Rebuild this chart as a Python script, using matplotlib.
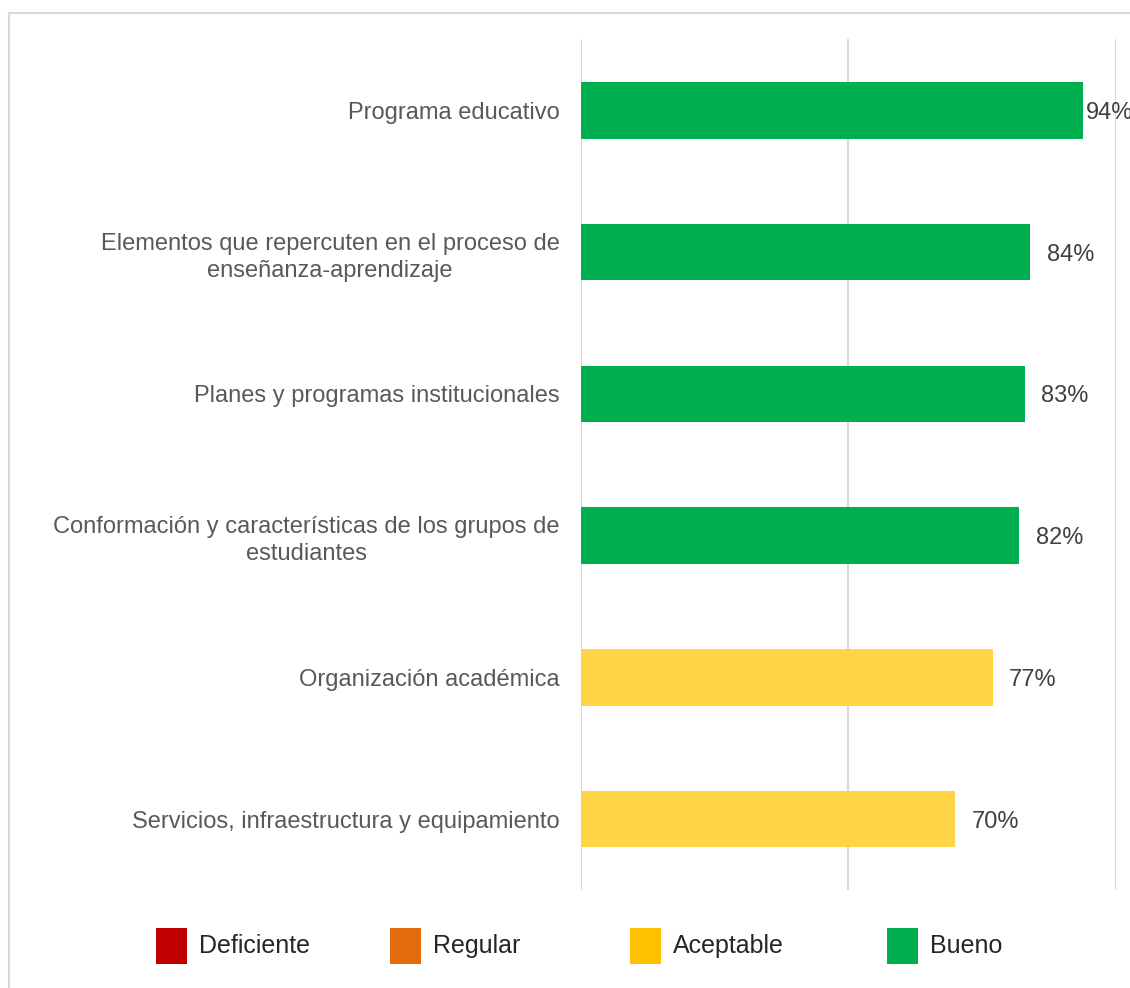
import matplotlib
matplotlib.use("Agg")
import matplotlib.pyplot as plt
from matplotlib.patches import Rectangle
from matplotlib.lines import Line2D

plt.rcParams['font.family'] = ['Liberation Sans', 'DejaVu Sans']

# data
categorias = [
    "Programa educativo",
    "Elementos que repercuten en el proceso de\nenseñanza-aprendizaje",
    "Planes y programas institucionales",
    "Conformación y características de los grupos de\nestudiantes",
    "Organización académica",
    "Servicios, infraestructura y equipamiento",
]
valores = [0.94, 0.84, 0.83, 0.82, 0.77, 0.70]
niveles = ["Bueno", "Bueno", "Bueno", "Bueno", "Aceptable", "Aceptable"]

leyenda = ["Deficiente", "Regular", "Aceptable", "Bueno"]
colores_leyenda = ["#C00000", "#E36C0A", "#FFC000", "#00B050"]
colores_barra = {"Bueno": "#00B050", "Aceptable": "#FFD447"}

W, H = 1130, 988
fig = plt.figure(figsize=(W / 100, H / 100), dpi=100)
ax = fig.add_axes([581 / W, 1 - 890 / H, (1115.5 - 581) / W, (890 - 39.5) / H])

y = list(range(len(categorias)))
ax.barh(y, valores, height=0.4, color=[colores_barra[n] for n in niveles], zorder=3)

ax.set_xlim(0, 1)
ax.set_ylim(len(categorias) - 0.5, -0.5)
ax.set_xticks([0, 0.5, 1])
ax.xaxis.grid(True, color="#d9d9d9", linewidth=1.5, zorder=0)
ax.tick_params(axis="x", length=0, labelbottom=False)
for s in ax.spines.values():
    s.set_visible(False)

ax.set_yticks(y)
ax.set_yticklabels(categorias, fontsize=17, color="#595959", multialignment="center",
                   linespacing=1.3)
ax.tick_params(axis="y", length=0, pad=15.5)

# value labels
for yi, v in zip(y, valores):
    off = 2 if v > 0.9 else 12
    ax.annotate(f"{v:.0%}", xy=(v, yi), xytext=(off, 0), textcoords="offset points",
                ha="left", va="center_baseline", fontsize=17, color="#404040")

# legend drawn by hand
leg_x = [156, 390, 630, 887]
for x0, lab, col in zip(leg_x, leyenda, colores_leyenda):
    fig.patches.append(Rectangle((x0 / W, 1 - 964 / H), 31 / W, 36 / H,
                                 transform=fig.transFigure, facecolor=col,
                                 edgecolor="none"))
    fig.text((x0 + 43) / W, 1 - 946 / H, lab, fontsize=18, color="#262626",
             ha="left", va="center")

# frame lines (top and left)
fig.add_artist(Line2D([9 / W, 1], [1 - 13 / H, 1 - 13 / H], transform=fig.transFigure,
                      color="#d9d9d9", linewidth=1.5))
fig.add_artist(Line2D([9 / W, 9 / W], [0, 1 - 13 / H], transform=fig.transFigure,
                      color="#d9d9d9", linewidth=1.5))

fig.savefig("out.png", dpi=100, facecolor="white")
